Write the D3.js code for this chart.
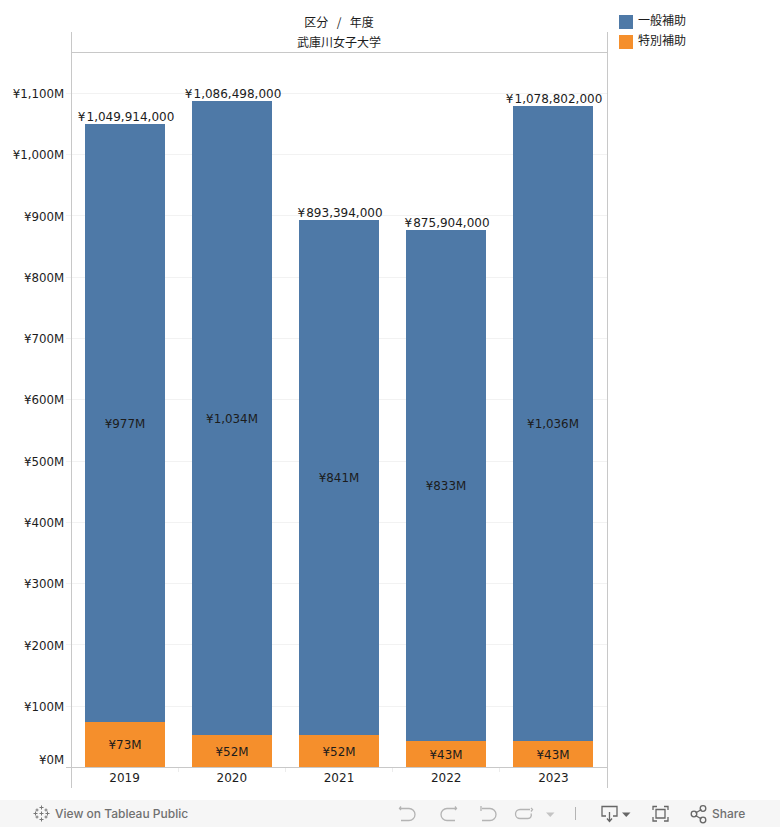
<!DOCTYPE html>
<html><head><meta charset="utf-8">
<script src="https://cdn.jsdelivr.net/npm/d3@7/dist/d3.min.js"></script>
<style>
html,body{margin:0;padding:0;background:#fff;overflow:hidden}
svg{display:block}
text{font-family:"DejaVu Sans",sans-serif;font-size:11.9px;fill:#1c1c1c}
.cjk{font-family:"Noto Sans CJK JP",sans-serif;font-size:12px}
.icon{fill:none;stroke:#b4b4b4;stroke-width:1.3}
.iconD{fill:none;stroke:#666;stroke-width:1.3}
</style></head><body><svg id="c" width="780" height="827"></svg>
<script>
const years = ["2019","2020","2021","2022","2023"];
const generalSubsidy = [976.9,1034.4,841.4,832.9,1035.8];
const specialSubsidy = [73,52,52,43,43];
const totals = [1049914000,1086498000,893394000,875904000,1078802000];
const yTicks = [0,100,200,300,400,500,600,700,800,900,1000,1100];
const seriesNames = ["一般補助","特別補助"];
const seriesColors = ["#4e79a7","#f58f2c"];
const university = "武庫川女子大学";
const headerTitle = "区分  /  年度";

const svg = d3.select("#c");
const y = d3.scaleLinear().domain([0,1100]).range([767.5,93.3]);
const yPx = v => Math.round(y(v)-0.3);
const x = d3.scaleBand().domain(years).range([71.5,607.5]).paddingInner(0);
const barW = 80;
const barX = d => Math.floor(x(d)+x.bandwidth()/2-barW/2);

// gridlines
svg.append("g").selectAll("line").data(yTicks.filter(d=>d>0)).join("line")
  .attr("x1",66).attr("x2",607).attr("y1",d=>Math.floor(y(d))+.5).attr("y2",d=>Math.floor(y(d))+.5)
  .attr("stroke","#f2f2f2");

// bars
const rows = years.map((yr,i)=>({yr,g:generalSubsidy[i],s:specialSubsidy[i],t:totals[i]}));
const bars = svg.append("g").attr("shape-rendering","crispEdges");
bars.selectAll(".s").data(rows).join("rect").attr("class","s")
  .attr("x",d=>barX(d.yr)).attr("width",barW)
  .attr("y",d=>yPx(d.s)).attr("height",d=>768-yPx(d.s)).attr("fill",seriesColors[1]);
bars.selectAll(".g").data(rows).join("rect").attr("class","g")
  .attr("x",d=>barX(d.yr)).attr("width",barW)
  .attr("y",d=>yPx(d.s+d.g)).attr("height",d=>yPx(d.s)-yPx(d.s+d.g)).attr("fill",seriesColors[0]);

// in-bar labels
const mid = d=>barX(d.yr)+barW/2;
svg.append("g").selectAll("text").data(rows).join("text").attr("text-anchor","middle")
  .attr("x",mid).attr("y",d=>y(d.s/2)).attr("dy","0.36em").text(d=>"¥"+d.s+"M");
svg.append("g").selectAll("text").data(rows).join("text").attr("text-anchor","middle")
  .attr("x",mid).attr("y",d=>y(d.s+d.g/2)).attr("dy","0.36em").text(d=>"¥"+d3.format(",")(Math.round(d.g))+"M");

// totals
svg.append("g").selectAll("text").data(rows).join("text")
  .attr("text-anchor","middle").attr("x",d=>mid(d)+1).attr("y",d=>yPx(d.t/1e6)-3.4)
  .style("font-size","12px")
  .text(d=>"¥\u200A"+d3.format(",")(d.t));

// y axis
const ya = svg.append("g").attr("transform","translate(71.5,0.4)")
  .call(d3.axisLeft(y).tickValues(yTicks).tickSize(0).tickPadding(7.4).tickFormat(d=>"¥"+d3.format(",")(d)+"M"));
ya.select(".domain").remove();
ya.selectAll("text").style("font-family",'"DejaVu Sans",sans-serif').style("font-size","11.8px").attr("fill","#1c1c1c");
ya.selectAll(".tick").filter(d=>d===0).select("text").attr("y",-8);

// frame
const frame = svg.append("g").attr("stroke","#c8c8c8").attr("fill","none");
frame.append("line").attr("x1",71.5).attr("x2",71.5).attr("y1",32).attr("y2",788);
frame.append("line").attr("x1",607.5).attr("x2",607.5).attr("y1",32).attr("y2",788);
frame.append("line").attr("x1",71.5).attr("x2",607.5).attr("y1",52.5).attr("y2",52.5);
frame.append("line").attr("x1",66).attr("x2",607.5).attr("y1",767.5).attr("y2",767.5);
svg.append("g").selectAll("line").data(years.slice(1)).join("line")
  .attr("x1",d=>Math.round(x(d))-.5).attr("x2",d=>Math.round(x(d))-.5).attr("y1",768).attr("y2",772).attr("stroke","#ececec");

// x axis labels
const xa = svg.append("g").attr("transform","translate(-0.5,767.5)")
  .call(d3.axisBottom(x).tickSize(0).tickPadding(6));
xa.select(".domain").remove();
xa.selectAll("text").style("font-family",'"DejaVu Sans",sans-serif').style("font-size","12px").attr("fill","#1c1c1c");

// headers
svg.append("text").attr("class","cjk").attr("x",339).attr("y",27).attr("text-anchor","middle").style("white-space","pre").style("word-spacing","1.5px").text(headerTitle);
svg.append("text").attr("class","cjk").attr("x",339).attr("y",47).attr("text-anchor","middle").text(university);

// legend
const lg = svg.append("g").selectAll("g").data(seriesNames).join("g")
  .attr("transform",(d,i)=>`translate(619,${15+i*20})`);
lg.append("rect").attr("width",14).attr("height",14).attr("fill",(d,i)=>seriesColors[i]);
lg.append("text").attr("class","cjk").attr("x",19).attr("y",10.2).text(d=>d);

// footer
svg.append("rect").attr("x",0).attr("y",800).attr("width",780).attr("height",27).attr("fill","#f6f6f6");
const star = svg.append("g").attr("transform","translate(41.5,813.5)").attr("stroke","#777").attr("stroke-width",1).attr("fill","none");
[[0,-8,0,-4],[-2,-6,2,-6],[0,4,0,8],[-2,6,2,6],[-8,0,-4,0],[-6,-2,-6,2],[4,0,8,0],[6,-2,6,2],[-2,0,2,0],[0,-2,0,2],[-4.5,-5,-4.5,-2],[-6,-3.5,-3,-3.5],[4.5,-5,4.5,-2],[3,-3.500,6,-3.500],[-4.5,2,-4.5,5],[-6,3.500,-3,3.500],[4.5,2,4.5,5],[3,3.500,6,3.500]]
  .forEach(p=>star.append("line").attr("x1",p[0]).attr("y1",p[1]).attr("x2",p[2]).attr("y2",p[3]));
const ft = (t,xx)=>svg.append("text").attr("x",xx).attr("y",818).style("font-family","Inter,sans-serif").style("font-size","12px").style("font-weight",500).style("fill","#707070").text(t);
ft("View on Tableau Public",55);
ft("Share",712);
const ic = (d,c)=>svg.append("path").attr("class",c||"icon").attr("d",d);
ic("M401 810l-1.5-1.5 1.5-2M400 808.500h9a6 6 0 0 1 6 6v0a6 6 0 0 1-6 6h-8");
ic("M455 810l1.500-1.500-1.500-2M456 808.500h-9a6 6 0 0 0-6 6v0a6 6 0 0 0 6 6h8");
ic("M481 806v5M482 808.500h8a6 6 0 0 1 6 6v0a6 6 0 0 1-6 6h-8");
ic("M531 808l1.500 1.500-1.500 2M530 809.500h-10a3.500 3.500 0 0 0 0 9h8a3.500 3.500 0 0 0 3-5");
svg.append("path").attr("d","M546 812.500h8.500l-4.250 4.500z").attr("fill","#c4c4c4");
svg.append("line").attr("x1",575.5).attr("x2",575.5).attr("y1",807).attr("y2",820).attr("stroke","#b4b4b4");
ic("M606 816h-4v-9.500h15v9.500h-4M609.500 812v9M607 818.500l2.500 3 2.500-3","iconD");
svg.append("path").attr("d","M622 812.500h8.500l-4.250 4.500z").attr("fill","#666");
ic("M653 810v-3.500h4M664 806.500h4v3.500M668 817v4h-4M657 821h-4v-4M656 809.500h9v8.500h-9z","iconD");
ic("M695.500 813l6-3.500M695.500 815.500l6 3.500","iconD");
[[694,814],[703,808.500],[703,820]].forEach(p=>svg.append("circle").attr("class","iconD").attr("cx",p[0]).attr("cy",p[1]).attr("r",2.8));
</script></body></html>
